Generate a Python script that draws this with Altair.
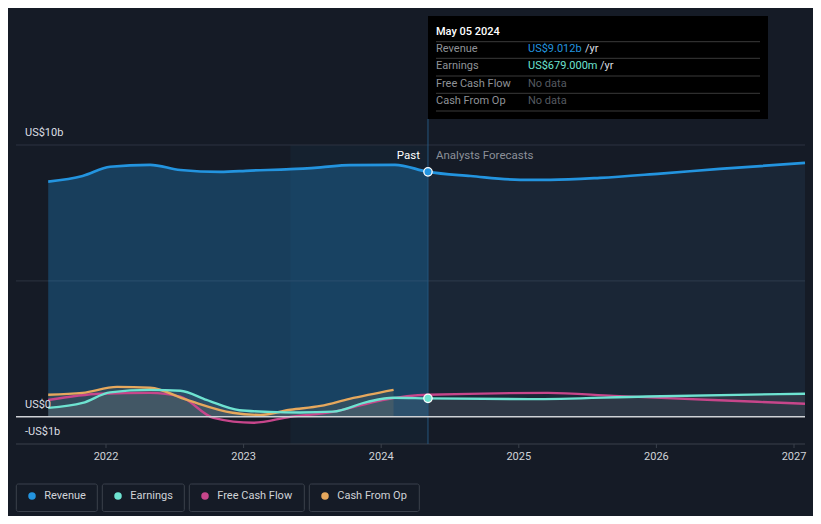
import altair as alt
import pandas as pd

# ---------------- data ----------------
rev_t = [2021.58, 2021.83, 2022.03, 2022.32, 2022.54, 2022.83, 2023.05, 2023.34, 2023.56,
         2023.77, 2024.10, 2024.34, 2024.65, 2025.01, 2025.23, 2025.59, 2026.03, 2026.46, 2027.08]
rev_v = [8.65, 8.86, 9.20, 9.27, 9.08, 9.01, 9.06, 9.11, 9.18,
         9.26, 9.27, 9.012, 8.86, 8.72, 8.72, 8.79, 8.95, 9.12, 9.34]

earn_t = [2021.58, 2021.83, 2022.03, 2022.32, 2022.54, 2022.73, 2022.97, 2023.19, 2023.41,
          2023.65, 2023.90, 2024.09, 2024.34, 2025.08, 2025.93, 2027.08]
earn_v = [0.33, 0.51, 0.90, 0.99, 0.96, 0.62, 0.24, 0.18, 0.16,
          0.19, 0.55, 0.70, 0.679, 0.65, 0.75, 0.85]

fcf_t = [2021.58, 2021.96, 2022.32, 2022.54, 2022.78, 2023.07, 2023.34, 2023.65, 2024.01,
         2024.34, 2025.21, 2025.69, 2026.41, 2027.08]
fcf_v = [0.62, 0.85, 0.88, 0.74, -0.04, -0.22, 0.00, 0.18, 0.62,
         0.81, 0.88, 0.77, 0.62, 0.48]

cfo_t = [2021.58, 2021.83, 2022.08, 2022.32, 2022.59, 2022.92, 2023.12, 2023.34, 2023.56,
         2023.77, 2024.09]
cfo_v = [0.81, 0.88, 1.10, 1.07, 0.62, 0.15, 0.07, 0.26, 0.40, 0.66, 0.99]

now_t = 2024.34
past_start = 2023.34
x_ticks = [2022, 2023, 2024, 2025, 2026, 2027]
y_labels = ["US$10b", "US$0", "-US$1b"]
y_label_vals = [10, 0, -1]
grid_vals = [5, 10]

series = ["Revenue", "Earnings", "Free Cash Flow", "Cash From Op"]
colors = ["#2394df", "#6ee3d1", "#c7468b", "#e6a85d"]

tip_date = "May 05 2024"
tip_labels = ["Revenue", "Earnings", "Free Cash Flow", "Cash From Op"]
tip_values = ["US$9.012b", "US$679.000m", "No data", "No data"]
tip_suffix = ["/yr", "/yr", "", ""]

# ---------------- styling / layout ----------------
BG = "#151b26"
FONT = "Roboto"
xs = alt.Scale(domain=[2022, 2027], range=[98, 786], nice=False, zero=False)
ys = alt.Scale(domain=[-1, 10], range=[436, 137], nice=False, zero=False)


def X(f):
    return alt.X(f, type="quantitative", scale=xs, axis=None)


def Y(f):
    return alt.Y(f, type="quantitative", scale=ys, axis=None)


def df_series(t, v):
    return pd.DataFrame({"t": t, "v": v})


rev = df_series(rev_t, rev_v)
earn = df_series(earn_t, earn_v)
fcf = df_series(fcf_t, fcf_v)
cfo = df_series(cfo_t, cfo_v)

layers = []

# highlight band (last 12 months of past)
band = pd.DataFrame({"a": [past_start], "b": [now_t], "lo": [-1], "hi": [10]})
layers.append(alt.Chart(band).mark_rect(color="#2a86c8", opacity=0.06).encode(
    x=X("a"), x2="b", y=Y("hi"), y2="lo"))

# grid lines
grid = pd.DataFrame({"g": grid_vals})
layers.append(alt.Chart(grid).mark_rule(color="#2c3340", strokeWidth=1).encode(
    x=alt.value(8), x2=alt.value(797), y=Y("g")))

# revenue areas
rev["zero"] = 0
rev_past = rev[rev.t <= now_t + 1e-9]
rev_fc = rev[rev.t >= now_t - 1e-9]
layers.append(alt.Chart(rev_past).mark_area(color="#2394df", opacity=0.29, interpolate="monotone").encode(
    x=X("t"), y=Y("v"), y2="zero"))
layers.append(alt.Chart(rev_fc).mark_area(color="#3d6a94", opacity=0.15, interpolate="monotone").encode(
    x=X("t"), y=Y("v"), y2="zero"))

# small-series areas
earn["zero"] = 0
cfo["zero"] = 0
layers.append(alt.Chart(earn).mark_area(color="#b8b0b0", opacity=0.13, interpolate="monotone").encode(
    x=X("t"), y=Y("v"), y2="zero"))
layers.append(alt.Chart(cfo).mark_area(color="#e6a85d", opacity=0.12, interpolate="monotone").encode(
    x=X("t"), y=Y("v"), y2="zero"))

# bottom axis line
zl = pd.DataFrame({"z": [0], "b": [-1]})
layers.append(alt.Chart(zl).mark_rule(color="#3a404b", strokeWidth=1).encode(
    x=alt.value(8), x2=alt.value(797), y=Y("b")))

# x ticks
xt = pd.DataFrame({"t": x_ticks, "lab": [str(v) for v in x_ticks]})
layers.append(alt.Chart(xt).mark_rule(color="#3a404b").encode(
    x=X("t"), y=alt.value(436), y2=alt.value(440)))
layers.append(alt.Chart(xt).mark_text(font=FONT, fontSize=11, color="#d0d3d8", baseline="middle").encode(
    x=X("t"), y=alt.value(449), text="lab"))

# tooltip vertical line
vl = pd.DataFrame({"t": [now_t]})
layers.append(alt.Chart(vl).mark_rule(color="#24557d", strokeWidth=1).encode(
    x=X("t"), y=alt.value(111), y2=alt.value(436)))

# lines
for d, c, w in [(fcf, colors[2], 2.4), (cfo, colors[3], 2.4), (earn, colors[1], 2.4), (rev, colors[0], 2.7)]:
    layers.append(alt.Chart(d).mark_line(color=c, strokeWidth=w, interpolate="monotone").encode(
        x=X("t"), y=Y("v")))

# zero line
layers.append(alt.Chart(zl).mark_rule(color="#cfd2d6", strokeWidth=1.5).encode(
    x=alt.value(8), x2=alt.value(797), y=Y("z")))

# points at "now"
pts = pd.DataFrame({"t": [now_t, now_t], "v": [rev_v[rev_t.index(now_t)], earn_v[earn_t.index(now_t)]],
                    "s": ["Revenue", "Earnings"]})
layers.append(alt.Chart(pts).mark_point(filled=True, size=70, stroke="white", strokeWidth=1.3, opacity=1).encode(
    x=X("t"), y=Y("v"),
    fill=alt.Fill("s:N", scale=alt.Scale(domain=["Revenue", "Earnings"], range=[colors[0], colors[1]]), legend=None)))

# y labels
yl = pd.DataFrame({"v": y_label_vals, "lab": y_labels})
layers.append(alt.Chart(yl).mark_text(font=FONT, fontSize=11, color="#dcdfe3", align="left", baseline="middle", dy=-12).encode(
    x=alt.value(17), y=Y("v"), text="lab"))

# Past / Analysts Forecasts
pf = pd.DataFrame({"t": [now_t]})
layers.append(alt.Chart(pf).mark_text(font=FONT, fontSize=11.5, color="#ffffff", align="right", baseline="middle", dx=-8).encode(
    x=X("t"), y=alt.value(148), text=alt.value("Past")))
layers.append(alt.Chart(pf).mark_text(font=FONT, fontSize=11.5, color="#8c9099", align="left", baseline="middle", dx=8).encode(
    x=X("t"), y=alt.value(148), text=alt.value("Analysts Forecasts")))

# tooltip box
one = pd.DataFrame({"a": [0]})
layers.append(alt.Chart(one).mark_rect(color="#000000").encode(
    x=alt.value(420), x2=alt.value(760), y=alt.value(8), y2=alt.value(111)))
layers.append(alt.Chart(one).mark_text(font=FONT, fontSize=11, fontWeight=500, color="#ffffff", align="left", baseline="middle").encode(
    x=alt.value(428), y=alt.value(23.5), text=alt.value(tip_date)))
sep_y = [33.7, 50.3, 68, 85.3, 103]
for sy in sep_y:
    layers.append(alt.Chart(one).mark_rule(color="#3a3a3a", strokeWidth=1).encode(
        x=alt.value(428), x2=alt.value(752), y=alt.value(sy)))
row_y = [41.3, 58, 76, 93]
val_colors = [colors[0], colors[1], "#555a60", "#555a60"]
suffix_x = [577, 592, 0, 0]
for i in range(4):
    layers.append(alt.Chart(one).mark_text(font=FONT, fontSize=11, color="#8f9297", align="left", baseline="middle").encode(
        x=alt.value(428), y=alt.value(row_y[i]), text=alt.value(tip_labels[i])))
    layers.append(alt.Chart(one).mark_text(font=FONT, fontSize=11, color=val_colors[i], align="left", baseline="middle").encode(
        x=alt.value(520), y=alt.value(row_y[i]), text=alt.value(tip_values[i])))
    if tip_suffix[i]:
        layers.append(alt.Chart(one).mark_text(font=FONT, fontSize=11, color="#dcdfe3", align="left", baseline="middle").encode(
            x=alt.value(suffix_x[i]), y=alt.value(row_y[i]), text=alt.value(tip_suffix[i])))

# legend
box_w = [81, 82, 115, 110]
gap = 5
x0 = 8.3
lx, lx2 = [], []
for w in box_w:
    lx.append(x0)
    lx2.append(x0 + w)
    x0 += w + gap
leg = pd.DataFrame({"s": series, "c": colors, "x": lx, "x2": lx2})
for i, r in leg.iterrows():
    layers.append(alt.Chart(one).mark_rect(fill=BG, stroke="#3b414c", strokeWidth=1, cornerRadius=2).encode(
        x=alt.value(r.x), x2=alt.value(r.x2), y=alt.value(476), y2=alt.value(503.5)))
    layers.append(alt.Chart(one).mark_point(filled=True, size=56, color=r.c, opacity=1).encode(
        x=alt.value(r.x + 15.7), y=alt.value(488)))
    layers.append(alt.Chart(one).mark_text(font=FONT, fontSize=11, color="#d0d3d8", align="left", baseline="middle").encode(
        x=alt.value(r.x + 28), y=alt.value(488), text=alt.value(r.s)))

chart = alt.layer(*layers).properties(
    width=805, height=508, padding=0, autosize=alt.AutoSizeParams(type="none")
).configure(background=BG).configure_view(stroke=None)

chart.save("out.html", embed_options={"renderer": "svg", "actions": False})
